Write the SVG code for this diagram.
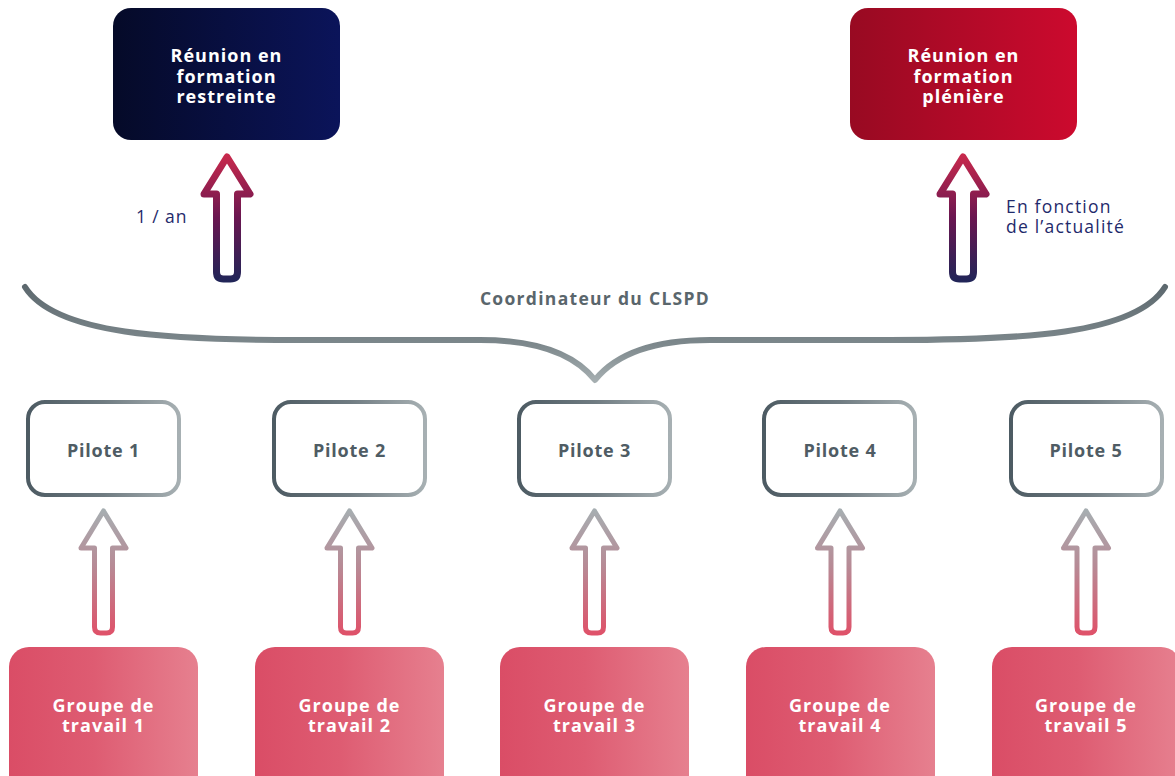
<svg xmlns="http://www.w3.org/2000/svg" width="1175" height="776" viewBox="0 0 1175 776">
<defs>
<linearGradient id="gNavy" x1="0" y1="0" x2="1" y2="0"><stop offset="0" stop-color="#050a28"/><stop offset="1" stop-color="#0b145a"/></linearGradient>
<linearGradient id="gRed" x1="0" y1="0" x2="1" y2="0"><stop offset="0" stop-color="#980a22"/><stop offset="1" stop-color="#cc0a2e"/></linearGradient>
<linearGradient id="gPink" x1="0" y1="0" x2="1" y2="0"><stop offset="0" stop-color="#da4d66"/><stop offset="0.45" stop-color="#de5c72"/><stop offset="1" stop-color="#e6808f"/></linearGradient>
<linearGradient id="gPil" x1="0" y1="0" x2="1" y2="0"><stop offset="0" stop-color="#4d5b63"/><stop offset="0.5" stop-color="#6f7b81"/><stop offset="1" stop-color="#a7b0b3"/></linearGradient>
<linearGradient id="gBig" gradientUnits="userSpaceOnUse" x1="0" y1="152" x2="0" y2="283"><stop offset="0" stop-color="#cc2a4c"/><stop offset="0.5" stop-color="#6a1650"/><stop offset="1" stop-color="#1f2558"/></linearGradient>
<linearGradient id="gSmall" gradientUnits="userSpaceOnUse" x1="0" y1="508" x2="0" y2="636"><stop offset="0" stop-color="#a6afb2"/><stop offset="0.45" stop-color="#b78b96"/><stop offset="1" stop-color="#e05068"/></linearGradient>
<linearGradient id="gBrace" gradientUnits="userSpaceOnUse" x1="0" y1="285" x2="0" y2="384"><stop offset="0" stop-color="#5c686e"/><stop offset="0.6" stop-color="#7d888c"/><stop offset="1" stop-color="#a8b1b3"/></linearGradient>
<path id="bigArrow" d="M -10.5,194 L -23,194 L 0,157 L 23,194 L 10.5,194 L 10.5,272 Q 10.5,279 3.5,279 L -3.5,279 Q -10.5,279 -10.5,272 Z"/>
<path id="smallArrow" d="M -9,548 L -22.5,548 L 0,511 L 22.5,548 L 9,548 L 9,627 Q 9,633 3,633 L -3,633 Q -9,633 -9,627 Z"/>
</defs>
<style>
.big{fill:none;stroke:url(#gBig);stroke-width:7;stroke-linejoin:round}
.small{fill:none;stroke:url(#gSmall);stroke-width:5;stroke-linejoin:round}
.pil{fill:#fff;stroke:url(#gPil);stroke-width:4}
.grp{fill:url(#gPink)}
.wt{font-family:"Open Sans","Liberation Sans",sans-serif;font-weight:700;font-size:18px;letter-spacing:1px;fill:#fff;text-anchor:middle}
.pt{font-family:"Open Sans","Liberation Sans",sans-serif;font-weight:700;font-size:18px;letter-spacing:0.8px;fill:#4f5c64;text-anchor:middle}
.co{font-family:"Open Sans","Liberation Sans",sans-serif;font-weight:700;font-size:17.5px;letter-spacing:1.3px;fill:#5a666c;text-anchor:middle}
.lab{font-family:"Open Sans","Liberation Sans",sans-serif;font-weight:400;font-size:17.5px;letter-spacing:1.2px;fill:#1f2a6b}
</style>

<g id="top-restreinte">
<rect x="113" y="8" width="227" height="132" rx="18" fill="url(#gNavy)"/>
<text class="wt"><tspan x="226.5" y="62">Réunion en</tspan><tspan x="226.5" y="82.5">formation</tspan><tspan x="226.5" y="103">restreinte</tspan></text>
</g>
<g id="top-pleniere">
<rect x="850" y="8" width="227" height="132" rx="18" fill="url(#gRed)"/>
<text class="wt"><tspan x="963.5" y="62">Réunion en</tspan><tspan x="963.5" y="82.5">formation</tspan><tspan x="963.5" y="103">plénière</tspan></text>
</g>

<g id="connectors">
<use href="#bigArrow" class="big" transform="translate(227,0)"/>
<use href="#bigArrow" class="big" transform="translate(963,0)"/>
<path d="M 25,287 C 55,335 170,340 300,340 L 480,340 C 540,340 575,355 595,380 C 615,355 650,340 710,340 L 890,340 C 1020,340 1135,335 1165,287" fill="none" stroke="url(#gBrace)" stroke-width="6" stroke-linecap="round" stroke-linejoin="round"/>
<use href="#smallArrow" class="small" transform="translate(103.5,0)"/>
<use href="#smallArrow" class="small" transform="translate(349.5,0)"/>
<use href="#smallArrow" class="small" transform="translate(594.5,0)"/>
<use href="#smallArrow" class="small" transform="translate(840,0)"/>
<use href="#smallArrow" class="small" transform="translate(1086,0)"/>
</g>

<g id="labels">
<text class="lab" x="136" y="223" style="letter-spacing:0.9px">1 / an</text>
<text class="lab"><tspan x="1006" y="213">En fonction</tspan><tspan x="1006" y="233">de l’actualité</tspan></text>
<text class="co" x="595" y="305">Coordinateur du CLSPD</text>
</g>

<g id="pilote1"><rect class="pil" x="28" y="402" width="151" height="93" rx="17"/><text class="pt" x="103.5" y="457">Pilote 1</text></g>
<g id="pilote2"><rect class="pil" x="274" y="402" width="151" height="93" rx="17"/><text class="pt" x="349.5" y="457">Pilote 2</text></g>
<g id="pilote3"><rect class="pil" x="519" y="402" width="151" height="93" rx="17"/><text class="pt" x="594.5" y="457">Pilote 3</text></g>
<g id="pilote4"><rect class="pil" x="764" y="402" width="151" height="93" rx="17"/><text class="pt" x="840" y="457">Pilote 4</text></g>
<g id="pilote5"><rect class="pil" x="1011" y="402" width="151" height="93" rx="17"/><text class="pt" x="1086" y="457">Pilote 5</text></g>

<g id="groupe1"><rect class="grp" x="9" y="647" width="189" height="150" rx="20"/><text class="wt"><tspan x="103.5" y="711.5">Groupe de</tspan><tspan x="103.5" y="732">travail 1</tspan></text></g>
<g id="groupe2"><rect class="grp" x="255" y="647" width="189" height="150" rx="20"/><text class="wt"><tspan x="349.5" y="711.5">Groupe de</tspan><tspan x="349.5" y="732">travail 2</tspan></text></g>
<g id="groupe3"><rect class="grp" x="500" y="647" width="189" height="150" rx="20"/><text class="wt"><tspan x="594.5" y="711.5">Groupe de</tspan><tspan x="594.5" y="732">travail 3</tspan></text></g>
<g id="groupe4"><rect class="grp" x="746" y="647" width="189" height="150" rx="20"/><text class="wt"><tspan x="840" y="711.5">Groupe de</tspan><tspan x="840" y="732">travail 4</tspan></text></g>
<g id="groupe5"><rect class="grp" x="992" y="647" width="189" height="150" rx="20"/><text class="wt"><tspan x="1086" y="711.5">Groupe de</tspan><tspan x="1086" y="732">travail 5</tspan></text></g>
</svg>
